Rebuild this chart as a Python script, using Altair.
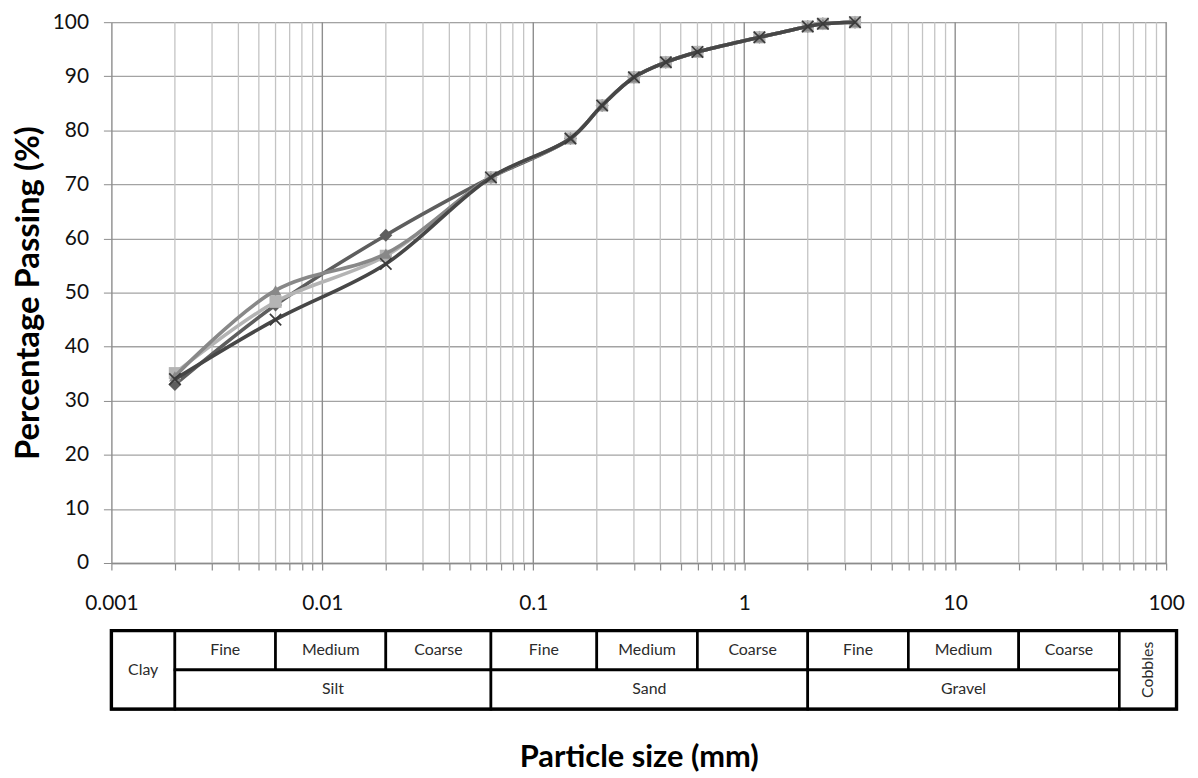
import altair as alt
import pandas as pd

# ---- data ----
sizes = [0.002, 0.006, 0.02, 0.063, 0.15, 0.212, 0.3, 0.425, 0.6, 1.18, 2.0, 2.36, 3.35]
series_diamond = [33.0, 47.7, 60.6, 71.3, 78.5, 84.6, 89.8, 92.6, 94.5, 97.2, 99.2, 99.7, 100.0]
series_square = [35.1, 48.3, 56.8, 71.3, 78.5, 84.6, 89.8, 92.6, 94.5, 97.2, 99.2, 99.7, 100.0]
series_triangle = [34.5, 50.4, 57.2, 71.3, 78.5, 84.6, 89.8, 92.6, 94.5, 97.2, 99.2, 99.7, 100.0]
series_cross = [34.0, 45.0, 55.3, 71.3, 78.5, 84.6, 89.8, 92.6, 94.5, 97.2, 99.2, 99.7, 100.0]

major_ticks = [0.001, 0.01, 0.1, 1, 10, 100]
minor_ticks = [k * d for d in [0.001, 0.01, 0.1, 1, 10] for k in range(2, 10)]
all_ticks = sorted(major_ticks + minor_ticks)
y_ticks = list(range(0, 101, 10))

table_labels = ["Clay", "Fine", "Medium", "Coarse", "Silt", "Fine", "Medium", "Coarse", "Sand",
                "Fine", "Medium", "Coarse", "Gravel", "Cobbles"]
table_lo = [0.001, 0.002, 0.006, 0.02, 0.002, 0.063, 0.2, 0.6, 0.063, 2, 6, 20, 2, 60]
table_hi = [0.002, 0.006, 0.02, 0.063, 0.063, 0.2, 0.6, 2, 2, 6, 20, 60, 60, 112]
table_row_top = [0, 0, 0, 0, 1, 0, 0, 0, 1, 0, 0, 0, 1, 0]
table_row_bottom = [2, 1, 1, 1, 2, 1, 1, 1, 2, 1, 1, 1, 2, 2]
table_vertical = [False] * 13 + [True]

FONT = "Lato"
W, H = 1061, 544

x_scale = alt.Scale(type="log", domain=[0.001, 100], nice=False)
y_scale = alt.Scale(domain=[0, 100], nice=False)

x_axis = alt.Axis(
    values=all_ticks,
    labelExpr="abs(log(datum.value) / LN10 - round(log(datum.value) / LN10)) < 0.000001 ? format(datum.value, '~g') : ''",
    grid=False, ticks=True, tickSize=7, tickColor="#8c8c8c", tickWidth=1.2,
    domain=True, domainColor="#8c8c8c", domainWidth=1.3,
    labelFontSize=21, labelFont=FONT, labelColor="#111111",
    labelPadding=23, title=None, labelFlush=False, labelOverlap=False,
)
y_axis = alt.Axis(values=y_ticks, grid=True, gridColor="#a3a3a3", gridWidth=1.3,
                  domainColor="#8c8c8c", domainWidth=1.3, tickColor="#8c8c8c", tickSize=8,
                  labelFontSize=21, labelFont=FONT, labelColor="#111111", labelPadding=15,
                  title="Percentage Passing (%)", titleFontSize=33, titleFont=FONT,
                  titleFontWeight="bold", titleColor="#000000", titlePadding=7)

minor_df = pd.DataFrame({"v": minor_ticks})
major_df = pd.DataFrame({"v": major_ticks[1:]})

grid_minor = alt.Chart(minor_df).mark_rule(color="#c4c4c4", strokeWidth=1.3).encode(
    x=alt.X("v:Q", scale=x_scale, axis=x_axis)
)
grid_major = alt.Chart(major_df).mark_rule(color="#8e8e8e", strokeWidth=1.4).encode(
    x=alt.X("v:Q", scale=x_scale, axis=x_axis)
)

series_specs = [
    ("diamond", series_diamond, "#5e5e5e", "diamond", 170, True),
    ("square", series_square, "#b4b4b4", "square", 150, True),
    ("triangle", series_triangle, "#888888", "triangle-up", 140, True),
    ("cross", series_cross, "#474747", "M-1,-1L1,1M1,-1L-1,1", 130, False),
]

layers = [grid_minor, grid_major]
for name, vals, color, shape, size, filled in series_specs:
    df = pd.DataFrame({"size": sizes, "passing": vals})
    base = alt.Chart(df).encode(
        x=alt.X("size:Q", scale=x_scale, axis=x_axis),
        y=alt.Y("passing:Q", scale=y_scale, axis=y_axis),
    )
    line = base.mark_line(interpolate="catmull-rom", strokeWidth=3.6, color=color)
    if filled:
        pts = base.mark_point(shape=shape, filled=True, size=size, color=color, opacity=1)
    else:
        pts = base.mark_point(shape=shape, filled=False, size=size, color="#3a3a3a",
                              strokeWidth=1.7, opacity=1)
    layers += [line, pts]

top = alt.layer(*layers).properties(width=W, height=H)

# ---- classification table ----
tdf = pd.DataFrame({
    "label": table_labels, "lo": table_lo, "hi": table_hi,
    "top": table_row_top, "bottom": table_row_bottom, "vertical": table_vertical,
})
ty_scale = alt.Scale(domain=[0, 2], reverse=True, nice=False)
tx_axis = alt.Axis(title="Particle size (mm)", labels=False, ticks=False, domain=False, grid=False,
                   titleFontSize=31, titleFont=FONT, titleFontWeight="bold", titleColor="#000000",
                   titlePadding=34)

tbase = alt.Chart(tdf)
cells = tbase.mark_rect(fill="white", stroke="black", strokeWidth=2.6).encode(
    x=alt.X("lo:Q", scale=x_scale, axis=tx_axis),
    x2="hi:Q",
    y=alt.Y("top:Q", scale=ty_scale, axis=None),
    y2="bottom:Q",
)
outer = tbase.transform_aggregate(
    lo="min(lo)", hi="max(hi)", top="min(top)", bottom="max(bottom)"
).mark_rect(fill=None, stroke="black", strokeWidth=3.4).encode(
    x=alt.X("lo:Q", scale=x_scale, axis=tx_axis),
    x2="hi:Q",
    y=alt.Y("top:Q", scale=ty_scale, axis=None),
    y2="bottom:Q",
)
text_base = tbase.transform_calculate(
    xm="sqrt(datum.lo * datum.hi)", ym="(datum.top + datum.bottom) / 2"
)
texts_h = text_base.transform_filter("!datum.vertical").mark_text(
    font=FONT, fontSize=16, color="#2b2b2b", baseline="middle", align="center"
).encode(
    x=alt.X("xm:Q", scale=x_scale, axis=tx_axis),
    y=alt.Y("ym:Q", scale=ty_scale, axis=None),
    text="label:N",
)
texts_v = text_base.transform_filter("datum.vertical").mark_text(
    font=FONT, fontSize=16, color="#2b2b2b", baseline="middle", align="center", angle=270
).encode(
    x=alt.X("xm:Q", scale=x_scale, axis=tx_axis),
    y=alt.Y("ym:Q", scale=ty_scale, axis=None),
    text="label:N",
)
table = alt.layer(cells, outer, texts_h, texts_v).properties(width=W, height=79)

chart = alt.vconcat(top, table, spacing=13).properties(
    padding={"left": 3, "top": 0, "right": 5, "bottom": 0}
).configure_view(stroke=None).configure(font=FONT)

chart.save("out.html", embed_options={"renderer": "svg", "actions": False})
